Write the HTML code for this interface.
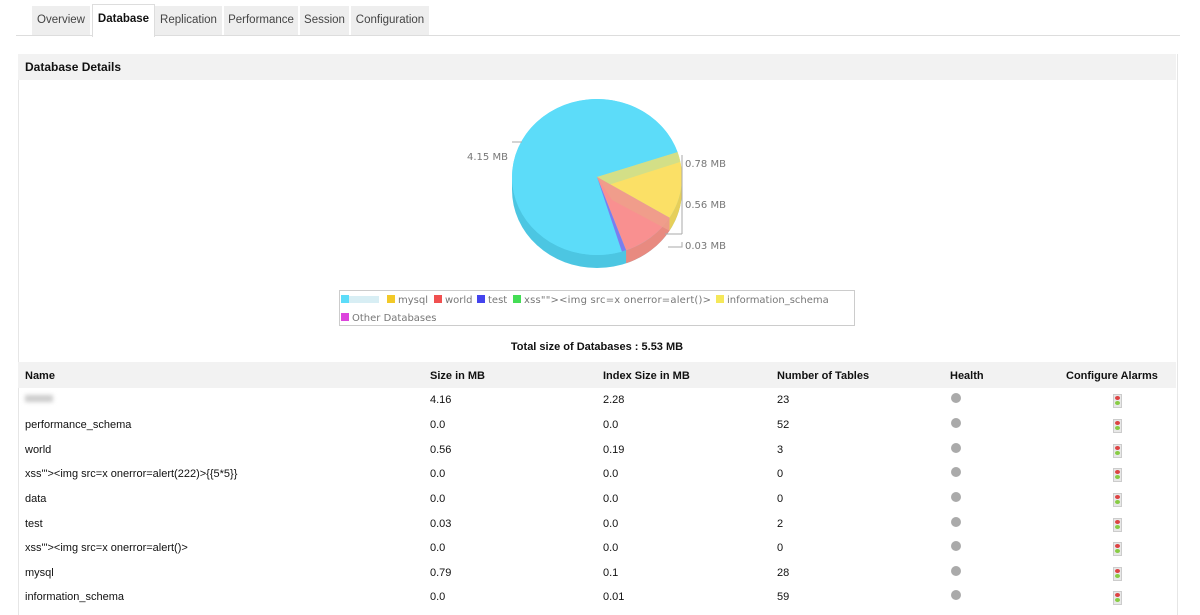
<!DOCTYPE html>
<html><head><meta charset="utf-8"><style>
body{margin:0;width:1200px;height:615px;background:#fff;font-family:"Liberation Sans",Arial,sans-serif;position:relative;overflow:hidden}
.tab{position:absolute;top:6px;height:29px;background:#eeeeee;font-size:11.5px;color:#444;line-height:28px;text-align:center}
.tab.act{background:#fff;font-weight:bold;color:#111;border:1px solid #ddd;border-bottom:none;top:4px;height:32px}
.line{position:absolute;left:16px;top:35px;width:1164px;height:1px;background:#ddd}
.panel{position:absolute;left:18px;top:54px;width:1158px;height:561px;border-left:1px solid #e6e6e6;border-right:1px solid #e6e6e6}
.hdr{position:absolute;left:18px;top:54px;width:1158px;height:26px;background:#f2f2f2;font-weight:bold;font-size:12px;line-height:26px;text-indent:7px;color:#111}
.th{position:absolute;left:18px;top:362px;width:1158px;height:26px;background:#f2f2f2}
.t{position:absolute;font-size:11px;color:#111;white-space:nowrap;margin-top:1px}
.b{font-weight:bold}
.dot{position:absolute;width:10px;height:10px;border-radius:50%;background:#aaa}
.al{position:absolute;width:7px;height:12px;background:#e8e8e8;border:1px solid #ccc}
.al:before{content:"";position:absolute;left:1px;top:1px;width:5px;height:4px;background:#d44;border-radius:50%}
.al:after{content:"";position:absolute;left:1px;top:6px;width:5px;height:4px;background:#8c4;border-radius:50%}
</style></head><body>
<div class="line"></div>
<div class="tab" style="left:32px;width:58px">Overview</div>
<div class="tab act" style="left:92px;width:61px">Database</div>
<div class="tab" style="left:155px;width:67px">Replication</div>
<div class="tab" style="left:224px;width:74px">Performance</div>
<div class="tab" style="left:300px;width:49px">Session</div>
<div class="tab" style="left:351px;width:78px">Configuration</div>
<div class="panel"></div>
<div class="hdr">Database Details</div>
<svg style="position:absolute;left:0;top:0" width="1200" height="360">
<g font-family="DejaVu Sans,sans-serif" font-size="10" fill="#777">
<ellipse cx="597" cy="190" rx="85" ry="78" fill="#4cc6e2"/>
<rect x="512" y="177" width="170" height="13" fill="#4cc6e2"/>
<path d="M669.5,217.7 L669.5,230.7 A85 78 0 0 1 626.1,263.3 L626.1,250.3 Z" fill="#e88a80"/>
<path d="M682,177 L682,190 A85 78 0 0 1 669.5,230.7 L669.5,217.7 Z" fill="#e6cf5a"/>
<ellipse cx="597" cy="177" rx="85" ry="78" fill="#5dddf8"/>
<path d="M597,177 L621.9,251.6 A85 78 0 1 1 677.6,152.1 Z" fill="#5cdcf9"/>
<path d="M597,177 L677.6,152.1 A85 78 0 0 1 669.5,217.7 Z" fill="#fbe066"/>
<path d="M597,177 L677.6,152.1 L680,162 L602,187 Z" fill="#c9de90" opacity=".8"/>
<path d="M597,177 L669.5,217.7 A85 78 0 0 1 626.1,250.3 Z" fill="#f99090"/>
<path d="M597,177 L669.5,217.7 L669.5,230.7 L612,200 Z" fill="#eda08a" opacity=".8"/>
<path d="M597,177 L626.1,250.3 A85 78 0 0 1 621.9,251.6 Z" fill="#7a7ef0"/>
<path d="M512,142 L522,142" stroke="#aaa" fill="none"/>
<path d="M682,234 L682,155 M682,234 L665,234 M668,247 L682,247 L682,242" stroke="#aaa" fill="none"/>
<text x="467" y="160">4.15 MB</text>
<text x="685" y="167">0.78 MB</text>
<text x="685" y="208">0.56 MB</text>
<text x="685" y="249">0.03 MB</text>
<rect x="339.5" y="290.5" width="515" height="35" fill="#fff" stroke="#ccc"/>
<rect x="341" y="295" width="8" height="8" fill="#5cdcf9"/><rect x="349" y="296" width="30" height="7" fill="#d8eef4"/>
<rect x="387" y="295" width="8" height="8" fill="#f2c928"/><text x="398" y="303">mysql</text>
<rect x="434" y="295" width="8" height="8" fill="#f05050"/><text x="445" y="303">world</text>
<rect x="477" y="295" width="8" height="8" fill="#4444ee"/><text x="488" y="303">test</text>
<rect x="513" y="295" width="8" height="8" fill="#44dd55"/><text x="524" y="303" textLength="187">xss""&gt;&lt;img src=x onerror=alert()&gt;</text>
<rect x="716" y="295" width="8" height="8" fill="#f5e85a"/><text x="727" y="303">information_schema</text>
<rect x="341" y="313" width="8" height="8" fill="#dd44dd"/><text x="352" y="321">Other Databases</text>
</g>
<text x="597" y="350" text-anchor="middle" font-family="Liberation Sans,sans-serif" font-size="11" font-weight="bold" fill="#111">Total size of Databases : 5.53 MB</text>
</svg>
<div class="th"></div>
<div class="t b" style="left:25px;top:369px">Name</div>
<div class="t b" style="left:430px;top:369px">Size in MB</div>
<div class="t b" style="left:603px;top:369px">Index Size in MB</div>
<div class="t b" style="left:777px;top:369px">Number of Tables</div>
<div class="t b" style="left:950px;top:369px">Health</div>
<div class="t b" style="left:1066px;top:369px">Configure Alarms</div>
<div class="t" style="left:25px;top:394px;width:28px;height:7px;background:#ccc;filter:blur(2px)"></div>
<div class="t" style="left:430px;top:393px">4.16</div><div class="t" style="left:603px;top:393px">2.28</div><div class="t" style="left:777px;top:393px">23</div>
<div class="t" style="left:25px;top:418px">performance_schema</div><div class="t" style="left:430px;top:418px">0.0</div><div class="t" style="left:603px;top:418px">0.0</div><div class="t" style="left:777px;top:418px">52</div>
<div class="t" style="left:25px;top:443px">world</div><div class="t" style="left:430px;top:443px">0.56</div><div class="t" style="left:603px;top:443px">0.19</div><div class="t" style="left:777px;top:443px">3</div>
<div class="t" style="left:25px;top:467px">xss'"&gt;&lt;img src=x onerror=alert(222)&gt;{{5*5}}</div><div class="t" style="left:430px;top:467px">0.0</div><div class="t" style="left:603px;top:467px">0.0</div><div class="t" style="left:777px;top:467px">0</div>
<div class="t" style="left:25px;top:492px">data</div><div class="t" style="left:430px;top:492px">0.0</div><div class="t" style="left:603px;top:492px">0.0</div><div class="t" style="left:777px;top:492px">0</div>
<div class="t" style="left:25px;top:517px">test</div><div class="t" style="left:430px;top:517px">0.03</div><div class="t" style="left:603px;top:517px">0.0</div><div class="t" style="left:777px;top:517px">2</div>
<div class="t" style="left:25px;top:541px">xss'"&gt;&lt;img src=x onerror=alert()&gt;</div><div class="t" style="left:430px;top:541px">0.0</div><div class="t" style="left:603px;top:541px">0.0</div><div class="t" style="left:777px;top:541px">0</div>
<div class="t" style="left:25px;top:566px">mysql</div><div class="t" style="left:430px;top:566px">0.79</div><div class="t" style="left:603px;top:566px">0.1</div><div class="t" style="left:777px;top:566px">28</div>
<div class="t" style="left:25px;top:590px">information_schema</div><div class="t" style="left:430px;top:590px">0.0</div><div class="t" style="left:603px;top:590px">0.01</div><div class="t" style="left:777px;top:590px">59</div>
<div class="dot" style="left:951px;top:393px"></div><div class="al" style="left:1113px;top:394px"></div>
<div class="dot" style="left:951px;top:418px"></div><div class="al" style="left:1113px;top:419px"></div>
<div class="dot" style="left:951px;top:443px"></div><div class="al" style="left:1113px;top:444px"></div>
<div class="dot" style="left:951px;top:467px"></div><div class="al" style="left:1113px;top:468px"></div>
<div class="dot" style="left:951px;top:492px"></div><div class="al" style="left:1113px;top:493px"></div>
<div class="dot" style="left:951px;top:517px"></div><div class="al" style="left:1113px;top:518px"></div>
<div class="dot" style="left:951px;top:541px"></div><div class="al" style="left:1113px;top:542px"></div>
<div class="dot" style="left:951px;top:566px"></div><div class="al" style="left:1113px;top:567px"></div>
<div class="dot" style="left:951px;top:590px"></div><div class="al" style="left:1113px;top:591px"></div>
</body></html>
